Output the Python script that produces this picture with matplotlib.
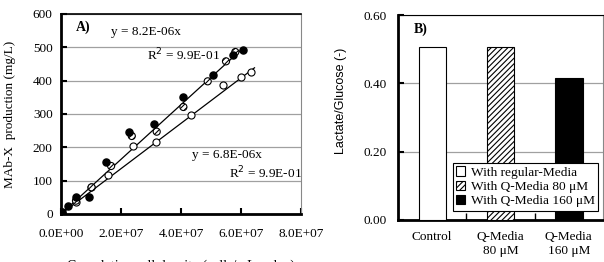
import matplotlib
matplotlib.use("Agg")
import matplotlib.pyplot as plt
import numpy as np

plt.rcParams['font.family'] = ['Liberation Serif', 'DejaVu Serif']
plt.rcParams['hatch.linewidth'] = 0.8

# panel A data
x_filled = [0.2e6, 2.4e6, 5.0e6, 9.3e6, 15.0e6, 22.5e6, 31.0e6, 40.8e6, 50.5e6, 57.3e6, 60.5e6]
y_filled = [7, 23, 52, 50, 155, 245, 270, 352, 418, 476, 493]
x_hatch = [0.3e6, 5.0e6, 10.2e6, 16.7e6, 23.6e6, 31.9e6, 40.8e6, 48.9e6, 55.0e6, 58.1e6]
y_hatch = [5, 40, 80, 144, 234, 247, 321, 398, 458, 486]
x_open = [0.3e6, 5.0e6, 10.0e6, 15.8e6, 23.9e6, 31.8e6, 43.4e6, 54.1e6, 60.1e6, 63.2e6]
y_open = [3, 37, 82, 117, 203, 216, 298, 386, 412, 425]
slope_hi = 8.2e-6
slope_lo = 6.8e-6
fit_end_hi = 6.05e7
fit_end_lo = 6.45e7

# panel B data
categories = ['Control', 'Q-Media\n80 \u03bcM', 'Q-Media\n160 \u03bcM']
ratios = [0.505, 0.505, 0.415]
legend_labels = ['With regular-Media', 'With Q-Media 80 \u03bcM', 'With Q-Media 160 \u03bcM']

fig = plt.figure(figsize=(6.04, 2.62), dpi=100)

# ---- panel A ----
ax = fig.add_axes([61 / 604, 1 - 214 / 262, 240 / 604, 200 / 262])
ax.set_xlim(0, 8e7)
ax.set_ylim(0, 600)
ax.set_yticks(np.arange(0, 601, 100))
ax.set_xticks(np.arange(0, 8.1e7, 2e7))
ax.set_xticklabels(['0.0E+00', '2.0E+07', '4.0E+07', '6.0E+07', '8.0E+07'])
ax.grid(axis='y', color='#a0a0a0', lw=0.9)
ax.set_axisbelow(True)
ax.tick_params(direction='in', length=4, width=1.5, labelsize=9.5, pad=6)
ax.tick_params(axis='x', pad=10)
for s in ['left', 'bottom']:
    ax.spines[s].set_linewidth(2)
ax.spines['top'].set_linewidth(1.2)
ax.spines['right'].set_color('#888888')

xf = np.array([0, fit_end_hi])
ax.plot(xf, slope_hi * xf, color='black', lw=0.9, zorder=2)
xf = np.array([0, fit_end_lo])
ax.plot(xf, slope_lo * xf, color='black', lw=0.9, zorder=2)

ax.scatter(x_open, y_open, s=26, facecolor='white', edgecolor='black', lw=0.8, zorder=3)
ax.scatter(x_hatch, y_hatch, s=26, facecolor='white', edgecolor='black', lw=0.8,
           hatch='//////', zorder=4)
ax.scatter(x_filled, y_filled, s=26, color='black', zorder=5)

ax.text(0.0625, 0.935, 'A)', transform=ax.transAxes, fontsize=10, fontweight='bold', va='center')
ax.text(0.21, 0.91, 'y = 8.2E-06x', transform=ax.transAxes, fontsize=9.5, va='center')
ax.text(0.36, 0.795, 'R$^2$ = 9.9E-01', transform=ax.transAxes, fontsize=9.5, va='center')
ax.text(0.545, 0.295, 'y = 6.8E-06x', transform=ax.transAxes, fontsize=9.5, va='center')
ax.text(0.70, 0.205, 'R$^2$ = 9.9E-01', transform=ax.transAxes, fontsize=9.5, va='center')
ax.set_ylabel('MAb-X  production (mg/L)', fontsize=9.5, labelpad=12)
ax.set_xlabel('Cumulative cell density (cells/mL \u00d7 day)', fontsize=10, labelpad=14)

# ---- panel B ----
bx = fig.add_axes([398 / 604, 1 - 220 / 262, 205 / 604, 205 / 262])
pos = np.arange(len(categories))
bx.bar(pos[0], ratios[0], width=0.4, color='white', edgecolor='black', lw=0.8,
       label=legend_labels[0], zorder=3)
bx.bar(pos[1], ratios[1], width=0.4, color='white', edgecolor='black', lw=0.8,
       hatch='//////', label=legend_labels[1], zorder=3)
bx.bar(pos[2], ratios[2], width=0.4, color='black', edgecolor='black', lw=0.8,
       label=legend_labels[2], zorder=3)
bx.set_xlim(-0.5, 2.5)
bx.set_ylim(0, 0.6)
bx.set_yticks([0, 0.2, 0.4, 0.6])
bx.set_yticklabels(['0.00', '0.20', '0.40', '0.60'])
bx.set_xticks(pos)
bx.set_xticklabels(categories)
bx.set_xticks([0.5, 1.5], minor=True)
bx.tick_params(axis='x', which='major', length=0, labelsize=9.5, pad=8)
bx.tick_params(axis='x', which='minor', direction='in', length=5, width=1)
bx.tick_params(axis='y', direction='in', length=4, width=1.5, labelsize=9.5, pad=8)
bx.grid(axis='y', color='#a0a0a0', lw=0.9)
bx.set_axisbelow(True)
for s in ['left', 'bottom']:
    bx.spines[s].set_linewidth(2)
bx.spines['right'].set_color('#888888')
bx.text(0.075, 0.93, 'B)', transform=bx.transAxes, fontsize=10, fontweight='bold', va='center')
bx.set_ylabel('Lactate/Glucose (-)', fontsize=9, family=['Liberation Sans', 'DejaVu Sans'],
              labelpad=10)
bx.yaxis.set_label_coords(-0.25, 0.58)
leg = bx.legend(loc='lower right', bbox_to_anchor=(0.975, 0.045), fontsize=9.6, frameon=True,
                fancybox=False, edgecolor='black', framealpha=1, borderpad=0.25,
                handlelength=0.7, handleheight=0.7, handletextpad=0.4, labelspacing=0.15,
                borderaxespad=0)
leg.get_frame().set_linewidth(0.8)

fig.savefig('out.png', dpi=100)
